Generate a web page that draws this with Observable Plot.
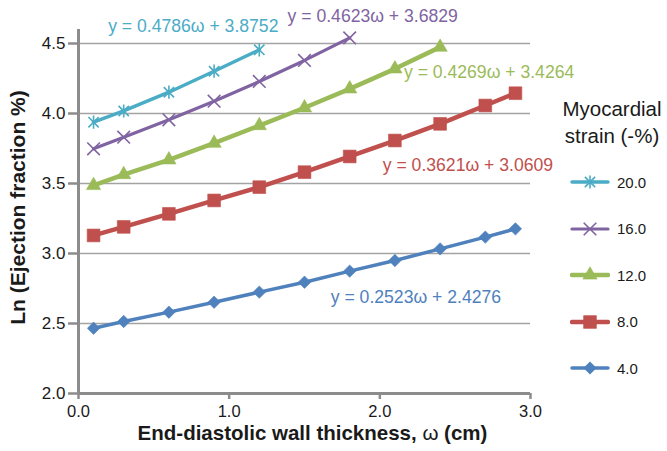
<!DOCTYPE html>
<html>
<head>
<meta charset="utf-8">
<script src="https://cdn.jsdelivr.net/npm/d3@7"></script>
<script src="https://cdn.jsdelivr.net/npm/@observablehq/plot@0.6"></script>
<style>
  body { margin: 0; background: #fff; }
  #wrap { position: relative; width: 667px; height: 451px; font-family: "Liberation Sans", Arial, Helvetica, sans-serif; color: #1a1a1a; }
  #wrap svg { display: block; }
  .lg-title { position: absolute; left: 556px; width: 112px; text-align: center; font-size: 20.5px; line-height: 27px; }
  .lg-item { position: absolute; left: 570px; height: 20px; display: flex; align-items: center; }
  .lg-item span { font-size: 15px; margin-left: 7px; }
</style>
</head>
<body>
<div id="wrap"></div>
<script>
// ---------- data ----------
const omega = [0.1, 0.3, 0.6, 0.9, 1.2, 1.5, 1.8, 2.1, 2.4, 2.7, 2.9];
const strainLevels = ["20.0", "16.0", "12.0", "8.0", "4.0"];
const lnEF20 = [3.938, 4.018, 4.152, 4.302, 4.455];
const lnEF16 = [3.748, 3.831, 3.955, 4.088, 4.229, 4.379, 4.540];
const lnEF12 = [3.486, 3.564, 3.669, 3.788, 3.914, 4.041, 4.176, 4.319, 4.474];
const lnEF8  = [3.129, 3.190, 3.283, 3.379, 3.474, 3.581, 3.693, 3.807, 3.926, 4.057, 4.145];
const lnEF4  = [2.466, 2.514, 2.581, 2.652, 2.724, 2.795, 2.874, 2.950, 3.033, 3.117, 3.176];
const equations = [
  "y = 0.4786ω + 3.8752",
  "y = 0.4623ω + 3.6829",
  "y = 0.4269ω + 3.4264",
  "y = 0.3621ω + 3.0609",
  "y = 0.2523ω + 2.4276"
];
const xTicks = [0, 1, 2, 3];
const yTicks = [2.0, 2.5, 3.0, 3.5, 4.0, 4.5];
const gridValues = [2.5, 3.0, 3.5, 4.0, 4.5];
const xLabel = "End-diastolic wall thickness, ω (cm)";
const yLabel = "Ln (Ejection fraction %)";
const legendTitle = ["Myocardial", "strain (-%)"];

// ---------- table ----------
const seriesValues = [lnEF20, lnEF16, lnEF12, lnEF8, lnEF4];
const rows = strainLevels.flatMap((s, k) =>
  seriesValues[k].map((v, i) => ({strain: s, w: omega[i], lnEF: v})));

// ---------- styles ----------
const asterisk = {
  draw(ctx, size) {
    const h = Math.sqrt(size / Math.PI), d = h * 0.78;
    ctx.moveTo(0, -h); ctx.lineTo(0, h);
    ctx.moveTo(-d, -d); ctx.lineTo(d, d);
    ctx.moveTo(-d, d); ctx.lineTo(d, -d);
  }
};
const cross = {
  draw(ctx, size) {
    const h = Math.sqrt(size / Math.PI);
    ctx.moveTo(-h, -h); ctx.lineTo(h, h);
    ctx.moveTo(-h, h); ctx.lineTo(h, -h);
  }
};
const sty = {
  "20.0": {color: "#4BACC6", width: 3.5, symbol: asterisk, r: 6.6, filled: false},
  "16.0": {color: "#8064A2", width: 3.2, symbol: cross, r: 6.3, filled: false},
  "12.0": {color: "#9BBB59", width: 4.5, symbol: "triangle", r: 5.3, filled: true},
  "8.0":  {color: "#C0504D", width: 4.5, symbol: "square", r: 7.2, filled: true},
  "4.0":  {color: "#4F81BD", width: 3.5, symbol: "diamond2", r: 5.6, filled: true}
};
// equation label anchoring: index of series point, pixel offset
const eqPlace = {
  "20.0": {i: 4, dx: -66, dy: -23},
  "16.0": {i: 6, dx: 23, dy: -22},
  "12.0": {i: 8, dx: 49, dy: 25},
  "8.0":  {i: 7, dx: 73, dy: 25},
  "4.0":  {i: 7, dx: 21, dy: 37}
};

const drawOrder = strainLevels.slice().reverse();
const seriesMarks = drawOrder.flatMap(s => {
  const st = sty[s];
  return [
    Plot.line(rows, {filter: d => d.strain === s, x: "w", y: "lnEF", stroke: st.color, strokeWidth: st.width, strokeLinejoin: "round", strokeLinecap: "round"}),
    Plot.dot(rows, {filter: d => d.strain === s, x: "w", y: "lnEF", symbol: st.symbol, r: st.r,
      fill: st.filled ? st.color : "none", stroke: st.color, strokeWidth: st.filled ? 0.6 : 1.6})
  ];
});
const eqMarks = strainLevels.map((s, k) => {
  const p = eqPlace[s];
  const pt = {w: omega[p.i], lnEF: seriesValues[k][p.i], label: equations[k]};
  return Plot.text([pt], {x: "w", y: "lnEF", text: "label", fill: sty[s].color, fontSize: 17.6, dx: p.dx, dy: p.dy, textAnchor: "middle"});
});

const chart = Plot.plot({
  width: 667, height: 451,
  marginLeft: 78, marginRight: 137, marginTop: 29, marginBottom: 58,
  x: {domain: [0, 3]},
  y: {domain: [2, 4.6]},
  style: {fontFamily: "'Liberation Sans', Arial, Helvetica, sans-serif", background: "white", color: "#1a1a1a", overflow: "visible"},
  marks: [
    Plot.ruleY(gridValues, {stroke: "#a3a3a3", strokeWidth: 1.6}),
    Plot.axisX({ticks: xTicks, tickSize: 6, tickPadding: 6, tickFormat: d3.format(".1f"), stroke: "#8c8c8c", strokeWidth: 2.5, fontSize: 16.5, label: null}),
    Plot.axisY({ticks: yTicks, tickSize: 10, tickPadding: 3, tickFormat: d3.format(".1f"), stroke: "#8c8c8c", strokeWidth: 2.5, fontSize: 17, label: null}),
    Plot.ruleX([0], {stroke: "#8c8c8c", strokeWidth: 3}),
    Plot.ruleY([2], {stroke: "#8c8c8c", strokeWidth: 3}),
    ...seriesMarks,
    ...eqMarks,
    Plot.text([xLabel], {frameAnchor: "bottom", textAnchor: "middle", dx: 8, dy: 46, fontWeight: "bold", fontSize: 20.5}),
    Plot.text([yLabel], {frameAnchor: "left", textAnchor: "middle", rotate: -90, dx: -60, dy: -4, fontWeight: "bold", fontSize: 21})
  ]
});
const wrap = document.getElementById("wrap");
wrap.appendChild(chart);

// non-bold omega in the x-axis title, as in the reference
d3.select(chart).selectAll("text").filter(function() { return this.textContent === xLabel; })
  .each(function() {
    const t = d3.select(this);
    const parts = xLabel.split("ω");
    t.text(null);
    t.append("tspan").text(parts[0]);
    t.append("tspan").attr("font-weight", "normal").text("ω");
    t.append("tspan").text(parts[1]);
  });

// ---------- legend ----------
legendTitle.forEach((t, i) => {
  const d = document.createElement("div");
  d.className = "lg-title";
  d.style.top = (94.5 + i * 27) + "px";
  d.textContent = t;
  wrap.appendChild(d);
});
strainLevels.forEach((s, k) => {
  const st = sty[s];
  const item = document.createElement("div");
  item.className = "lg-item";
  item.style.top = (172 + k * 46.5) + "px";
  const svg = d3.create("svg").attr("width", 40).attr("height", 20);
  svg.append("line").attr("x1", 2).attr("x2", 38).attr("y1", 10).attr("y2", 10)
    .attr("stroke", st.color).attr("stroke-width", st.width).attr("stroke-linecap", "round");
  const d3sym = {triangle: d3.symbolTriangle, square: d3.symbolSquare, diamond2: d3.symbolDiamond2}[st.symbol] || st.symbol;
  svg.append("path").attr("transform", "translate(20,10)")
    .attr("d", d3.symbol(d3sym, st.r * st.r * Math.PI)())
    .attr("fill", st.filled ? st.color : "none").attr("stroke", st.color).attr("stroke-width", st.filled ? 0.6 : 1.6);
  item.appendChild(svg.node());
  const lab = document.createElement("span");
  lab.textContent = s;
  item.appendChild(lab);
  wrap.appendChild(item);
});
</script>
</body>
</html>
